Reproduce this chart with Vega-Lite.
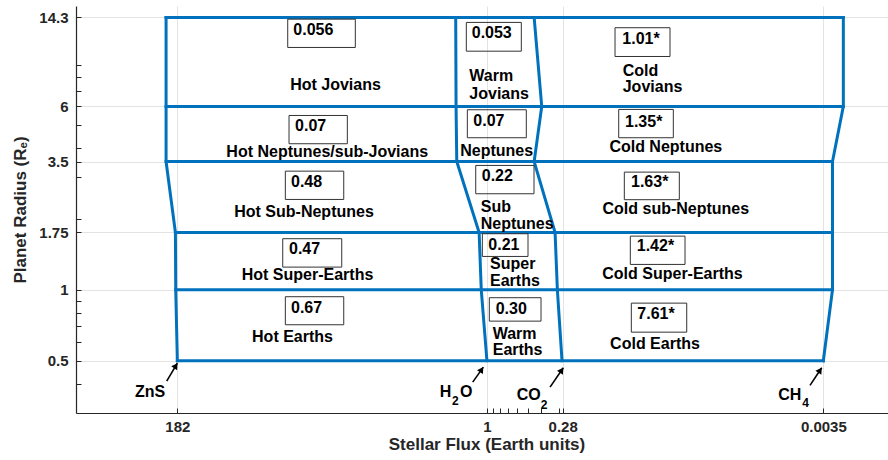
{
  "$schema": "https://vega.github.io/schema/vega-lite/v6.json",
  "width": 812,
  "height": 407,
  "autosize": {"type": "none"},
  "padding": {"left": 76, "top": 6, "right": 0, "bottom": 47},
  "background": "white",
  "config": {
    "font": "Liberation Sans",
    "view": {"stroke": null},
    "axis": {
      "labelFont": "Liberation Sans", "labelFontWeight": "bold", "labelFontSize": 15, "labelColor": "#262626",
      "titleFont": "Liberation Sans", "titleFontWeight": "bold", "titleFontSize": 17, "titleColor": "#262626",
      "domainColor": "#262626", "domainWidth": 1.2, "tickColor": "#262626", "tickWidth": 1, "tickSize": -5,
      "gridColor": "#e3e3e3", "gridWidth": 1, "labelOverlap": false, "labelFlush": false, "labelBound": false
    }
  },
  "datasets": {
    "bounds": [
      {"g": "ZnS", "i": 0, "f": 182, "r": 0.5}, {"g": "ZnS", "i": 1, "f": 187, "r": 1}, {"g": "ZnS", "i": 2, "f": 188, "r": 1.75},
      {"g": "ZnS", "i": 3, "f": 220, "r": 3.5}, {"g": "ZnS", "i": 4, "f": 220, "r": 6}, {"g": "ZnS", "i": 5, "f": 220, "r": 14.3},
      {"g": "H2O", "i": 0, "f": 1.0, "r": 0.5}, {"g": "H2O", "i": 1, "f": 1.10, "r": 1}, {"g": "H2O", "i": 2, "f": 1.14, "r": 1.75},
      {"g": "H2O", "i": 3, "f": 1.66, "r": 3.5}, {"g": "H2O", "i": 4, "f": 1.68, "r": 6}, {"g": "H2O", "i": 5, "f": 1.69, "r": 14.3},
      {"g": "CO2", "i": 0, "f": 0.283, "r": 0.5}, {"g": "CO2", "i": 1, "f": 0.306, "r": 1}, {"g": "CO2", "i": 2, "f": 0.318, "r": 1.75},
      {"g": "CO2", "i": 3, "f": 0.452, "r": 3.5}, {"g": "CO2", "i": 4, "f": 0.398, "r": 6}, {"g": "CO2", "i": 5, "f": 0.452, "r": 14.3},
      {"g": "CH4", "i": 0, "f": 0.0035, "r": 0.5}, {"g": "CH4", "i": 1, "f": 0.0030, "r": 1}, {"g": "CH4", "i": 2, "f": 0.0030, "r": 1.75},
      {"g": "CH4", "i": 3, "f": 0.0030, "r": 3.5}, {"g": "CH4", "i": 4, "f": 0.0025, "r": 6}, {"g": "CH4", "i": 5, "f": 0.0025, "r": 14.3},
      {"g": "h0.5", "i": 0, "f": 182, "r": 0.5}, {"g": "h0.5", "i": 1, "f": 0.0035, "r": 0.5},
      {"g": "h1", "i": 0, "f": 187, "r": 1}, {"g": "h1", "i": 1, "f": 0.0030, "r": 1},
      {"g": "h1.75", "i": 0, "f": 188, "r": 1.75}, {"g": "h1.75", "i": 1, "f": 0.0030, "r": 1.75},
      {"g": "h3.5", "i": 0, "f": 220, "r": 3.5}, {"g": "h3.5", "i": 1, "f": 0.0030, "r": 3.5},
      {"g": "h6", "i": 0, "f": 220, "r": 6}, {"g": "h6", "i": 1, "f": 0.0025, "r": 6},
      {"g": "h14.3", "i": 0, "f": 220, "r": 14.3}, {"g": "h14.3", "i": 1, "f": 0.0025, "r": 14.3}
    ],
    "boxes": [
      {"t": "0.056", "f": 28.46, "f2": 9.136, "r": 14.07, "r2": 10.67},
      {"t": "0.053", "f": 1.414, "f2": 0.5609, "r": 13.63, "r2": 10.29},
      {"t": "1.01*", "f": 0.1161, "f2": 0.04606, "r": 12.94, "r2": 9.77},
      {"t": "0.07", "f": 27.85, "f2": 10.45, "r": 5.49, "r2": 4.165},
      {"t": "0.07", "f": 1.390, "f2": 0.5158, "r": 5.806, "r2": 4.417},
      {"t": "1.35*", "f": 0.1091, "f2": 0.04357, "r": 5.824, "r2": 4.417},
      {"t": "0.48", "f": 29.63, "f2": 11.10, "r": 3.187, "r2": 2.417},
      {"t": "0.22", "f": 1.207, "f2": 0.4531, "r": 3.370, "r2": 2.555},
      {"t": "1.63*", "f": 0.09929, "f2": 0.03939, "r": 3.157, "r2": 2.411},
      {"t": "0.47", "f": 30.95, "f2": 11.48, "r": 1.647, "r2": 1.248},
      {"t": "0.21", "f": 1.080, "f2": 0.5012, "r": 1.729, "r2": 1.385},
      {"t": "1.42*", "f": 0.08977, "f2": 0.03579, "r": 1.689, "r2": 1.281},
      {"t": "0.67", "f": 29.63, "f2": 11.10, "r": 0.9344, "r2": 0.7105},
      {"t": "0.30", "f": 0.9605, "f2": 0.4027, "r": 0.9254, "r2": 0.7361},
      {"t": "7.61*", "f": 0.08828, "f2": 0.03478, "r": 0.8776, "r2": 0.6610}
    ],
    "numbers": [
      {"t": "0.056", "f": 25.91, "r": 12.00},
      {"t": "0.053", "f": 1.291, "r": 11.69},
      {"t": "1.01*", "f": 0.1027, "r": 10.99},
      {"t": "0.07", "f": 25.17, "r": 4.711},
      {"t": "0.07", "f": 1.257, "r": 4.946},
      {"t": "1.35*", "f": 0.09813, "r": 4.899},
      {"t": "0.48", "f": 26.93, "r": 2.726},
      {"t": "0.22", "f": 1.091, "r": 2.890},
      {"t": "1.63*", "f": 0.08872, "r": 2.726},
      {"t": "0.47", "f": 27.85, "r": 1.412},
      {"t": "0.21", "f": 0.9767, "r": 1.469},
      {"t": "1.42*", "f": 0.08058, "r": 1.459},
      {"t": "0.67", "f": 26.93, "r": 0.7962},
      {"t": "0.30", "f": 0.8625, "r": 0.7859},
      {"t": "7.61*", "f": 0.07980, "r": 0.7483}
    ],
    "centerLabels": [
      {"t": "Hot Jovians", "f": 12.74, "r": 7.01},
      {"t": "Hot Neptunes/sub-Jovians", "f": 14.65, "r": 3.654},
      {"t": "Neptunes", "f": 0.8482, "r": 3.690},
      {"t": "Cold Neptunes", "f": 0.04943, "r": 3.837},
      {"t": "Hot Sub-Neptunes", "f": 21.64, "r": 2.033},
      {"t": "Cold sub-Neptunes", "f": 0.04178, "r": 2.088},
      {"t": "Hot Super-Earths", "f": 20.40, "r": 1.096},
      {"t": "Cold Super-Earths", "f": 0.04416, "r": 1.114},
      {"t": "Hot Earths", "f": 26.26, "r": 0.5995},
      {"t": "Cold Earths", "f": 0.05928, "r": 0.5621}
    ],
    "leftLabels": [
      {"t": "Warm", "f": 1.344, "r": 7.655},
      {"t": "Jovians", "f": 1.344, "r": 6.465},
      {"t": "Cold", "f": 0.1020, "r": 8.06},
      {"t": "Jovians", "f": 0.1020, "r": 6.90},
      {"t": "Sub", "f": 1.110, "r": 2.135},
      {"t": "Neptunes", "f": 1.110, "r": 1.816},
      {"t": "Super", "f": 0.9493, "r": 1.220},
      {"t": "Earths", "f": 0.9493, "r": 1.034},
      {"t": "Warm", "f": 0.9072, "r": 0.6200},
      {"t": "Earths", "f": 0.9072, "r": 0.5265}
    ],
    "chem": [
      {"t": "ZnS", "f": 370.7, "r": 0.3504},
      {"t": "H", "f": 2.211, "r": 0.3504},
      {"t": "O", "f": 1.572, "r": 0.3504},
      {"t": "CO", "f": 0.6058, "r": 0.3392},
      {"t": "CH", "f": 0.007461, "r": 0.3416}
    ],
    "subs": [
      {"t": "2", "f": 1.798, "r": 0.3231},
      {"t": "2", "f": 0.4047, "r": 0.3128},
      {"t": "4", "f": 0.004982, "r": 0.3178}
    ],
    "arrows": [
      {"m": "ZnS", "f": 217.6, "r": 0.4096, "f2": 182.0, "r2": 0.4884},
      {"m": "H2O", "f": 1.270, "r": 0.4057, "f2": 1.062, "r2": 0.4697},
      {"m": "CO2", "f": 0.3461, "r": 0.3864, "f2": 0.2768, "r2": 0.4670},
      {"m": "CH4", "f": 0.004378, "r": 0.3928, "f2": 0.003596, "r2": 0.4670}
    ],
    "heads": [
      {"m": "ZnS", "f": 186.7, "r": 0.4762},
      {"m": "H2O", "f": 1.093, "r": 0.4587},
      {"m": "CO2", "f": 0.2849, "r": 0.4557},
      {"m": "CH4", "f": 0.003698, "r": 0.4557}
    ]
  },
  "encoding": {
    "x": {
      "field": "f", "type": "quantitative",
      "scale": {"type": "log", "domain": [0.00118, 1000], "reverse": true, "nice": false},
      "title": "Stellar Flux (Earth units)",
      "axis": {
        "values": [182, 1, 0.28, 0.0035, 0.9, 0.8, 0.7, 0.6, 0.5, 0.4, 0.3],
        "labelExpr": "indexof([182, 1, 0.28, 0.0035], datum.value) >= 0 ? '' + datum.value : ''",
        "grid": true,
        "gridOpacity": {"condition": {"test": "indexof([182, 1, 0.28, 0.0035], datum.value) >= 0", "value": 1}, "value": 0},
        "labelPadding": 11,
        "titleX": 410.5,
        "titleY": 36,
        "titleBaseline": "alphabetic"
      }
    },
    "y": {
      "field": "r", "type": "quantitative",
      "scale": {"type": "log", "domain": [0.3, 16], "nice": false},
      "title": "Planet Radius (R\u2091)",
      "axis": {
        "values": [14.3, 6, 3.5, 1.75, 1, 0.5, 9, 8, 7, 5, 4, 3, 2, 0.9, 0.8, 0.7, 0.6, 0.4],
        "labelExpr": "indexof([14.3, 6, 3.5, 1.75, 1, 0.5], datum.value) >= 0 ? '' + datum.value : ''",
        "grid": true,
        "gridOpacity": {"condition": {"test": "indexof([14.3, 6, 3.5, 1.75, 1, 0.5], datum.value) >= 0", "value": 1}, "value": 0},
        "labelPadding": 13,
        "titleX": -51,
        "titleBaseline": "alphabetic"
      }
    }
  },
  "layer": [
    {
      "data": {"name": "bounds"},
      "mark": {"type": "line", "color": "#0072BD", "strokeWidth": 3, "strokeCap": "square", "strokeJoin": "miter", "clip": false},
      "encoding": {"detail": {"field": "g"}, "order": {"field": "i", "type": "quantitative"}}
    },
    {
      "data": {"name": "boxes"},
      "mark": {"type": "rect", "fill": "white", "fillOpacity": 0, "stroke": "#333333", "strokeWidth": 1},
      "encoding": {"x2": {"field": "f2"}, "y2": {"field": "r2"}}
    },
    {
      "data": {"name": "numbers"},
      "mark": {"type": "text", "align": "left", "baseline": "alphabetic", "font": "Liberation Sans", "fontWeight": "bold", "fontSize": 16, "color": "black"},
      "encoding": {"text": {"field": "t"}}
    },
    {
      "data": {"name": "centerLabels"},
      "mark": {"type": "text", "align": "center", "baseline": "alphabetic", "font": "Liberation Sans", "fontWeight": "bold", "fontSize": 16, "color": "black"},
      "encoding": {"text": {"field": "t"}}
    },
    {
      "data": {"name": "leftLabels"},
      "mark": {"type": "text", "align": "left", "baseline": "alphabetic", "font": "Liberation Sans", "fontWeight": "bold", "fontSize": 16, "color": "black"},
      "encoding": {"text": {"field": "t"}}
    },
    {
      "data": {"name": "chem"},
      "mark": {"type": "text", "align": "left", "baseline": "alphabetic", "font": "Liberation Sans", "fontWeight": "bold", "fontSize": 16, "color": "black", "clip": false},
      "encoding": {"text": {"field": "t"}}
    },
    {
      "data": {"name": "subs"},
      "mark": {"type": "text", "align": "left", "baseline": "alphabetic", "font": "Liberation Sans", "fontWeight": "bold", "fontSize": 12, "color": "black"},
      "encoding": {"text": {"field": "t"}}
    },
    {
      "data": {"name": "arrows"},
      "mark": {"type": "rule", "color": "black", "strokeWidth": 1.6},
      "encoding": {"x2": {"field": "f2"}, "y2": {"field": "r2"}}
    },
    {
      "data": {"name": "heads"},
      "mark": {"type": "point", "shape": "triangle-up", "angle": 33, "filled": true, "color": "black", "size": 50, "opacity": 1},
      "encoding": {}
    }
  ]
}
